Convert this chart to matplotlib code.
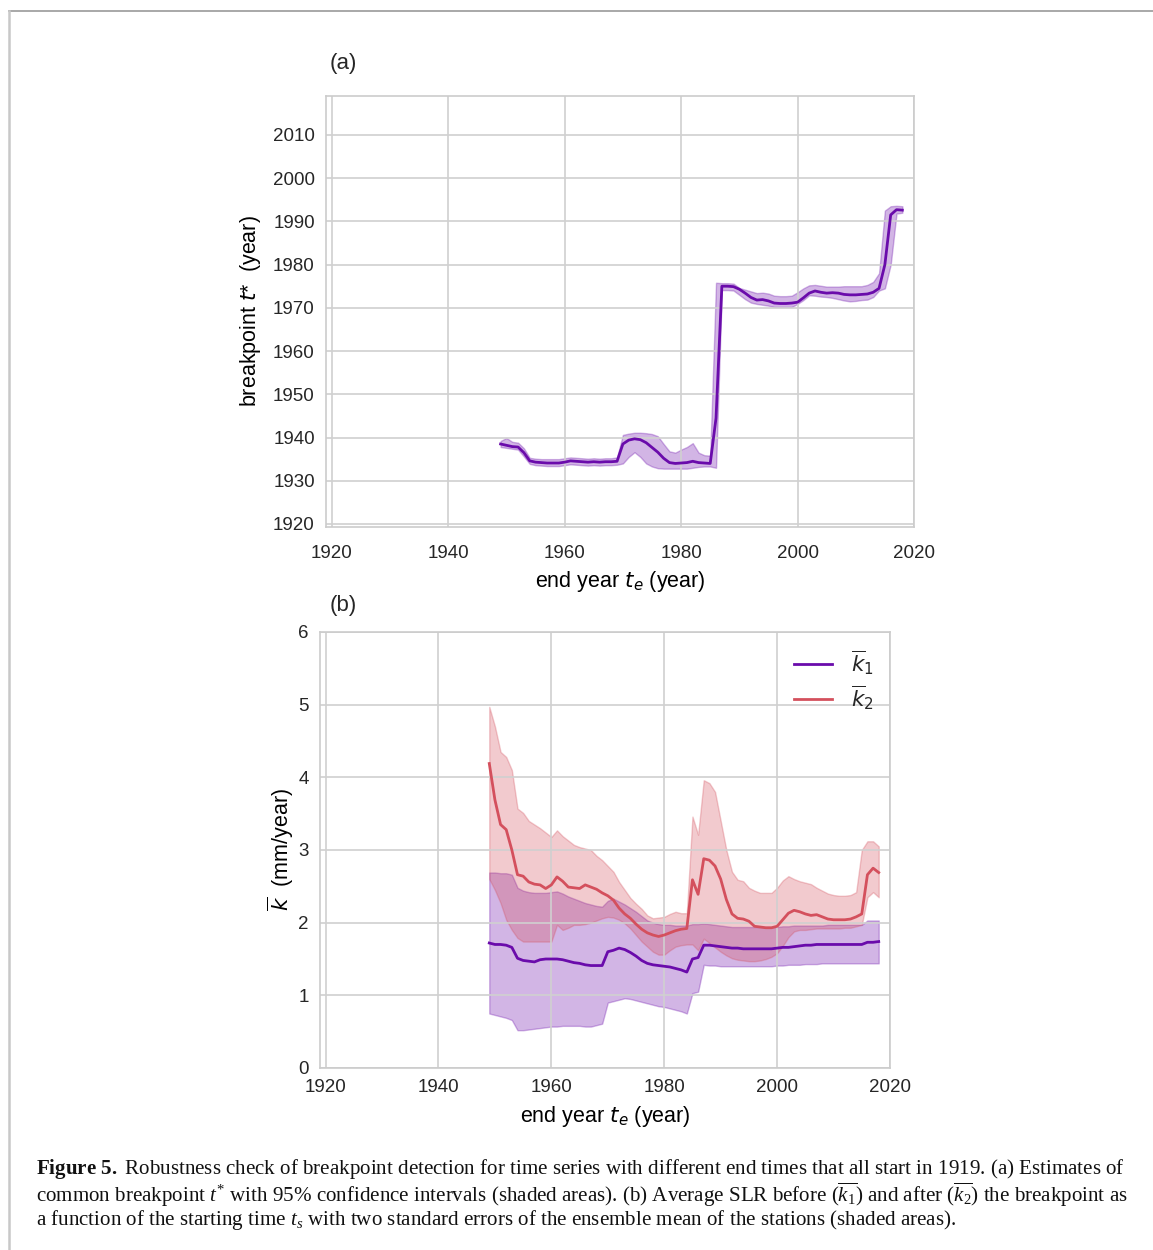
import numpy as np
import matplotlib.pyplot as plt
from matplotlib.lines import Line2D

# Estilo parecido com o whitegrid do seaborn
plt.rcParams['font.family'] = ['Liberation Sans', 'DejaVu Sans']
plt.rcParams['mathtext.fontset'] = 'custom'
plt.rcParams['mathtext.rm'] = 'Liberation Serif'
plt.rcParams['mathtext.it'] = 'Liberation Serif:italic'
plt.rcParams['mathtext.bf'] = 'Liberation Serif:bold'
plt.rcParams['axes.edgecolor'] = '#cccccc'
plt.rcParams['grid.color'] = '#d0d0d0'
plt.rcParams['text.color'] = '#262626'
plt.rcParams['xtick.color'] = '#262626'
plt.rcParams['ytick.color'] = '#262626'

# Anos finais das séries (todas começam em 1919)
end_years = np.arange(1949, 2019)

# (a) ponto de quebra comum e intervalo de 95%
t_star = [1938.5, 1938.2, 1937.9, 1937.8, 1936.5, 1934.6, 1934.3, 1934.2, 1934.1, 1934.1,
          1934.1, 1934.3, 1934.6, 1934.5, 1934.4, 1934.3, 1934.4, 1934.3, 1934.4, 1934.4,
          1934.5, 1938.5, 1939.4, 1939.7, 1939.5, 1938.8, 1937.7, 1936.6, 1935.2, 1934.2,
          1934.0, 1934.1, 1934.2, 1934.5, 1934.2, 1934.1, 1934.0, 1944.5, 1975.0, 1975.0,
          1974.9, 1974.3, 1973.4, 1972.4, 1971.8, 1971.9, 1971.6, 1971.1, 1971.0, 1971.0,
          1971.1, 1971.3, 1972.3, 1973.4, 1973.9, 1973.6, 1973.4, 1973.5, 1973.4, 1973.1,
          1973.0, 1973.0, 1973.1, 1973.2, 1973.6, 1974.5, 1980.0, 1991.5, 1992.7, 1992.6]
t_star_hi = [1939.2, 1939.9, 1939.0, 1938.8, 1937.5, 1935.3, 1935.1, 1935.0, 1935.0, 1935.0,
             1935.0, 1935.2, 1935.4, 1935.3, 1935.2, 1935.1, 1935.2, 1935.1, 1935.2, 1935.2,
             1935.4, 1940.6, 1940.9, 1941.1, 1941.1, 1941.0, 1940.8, 1940.3, 1938.5, 1936.8,
             1936.5, 1937.2, 1937.8, 1938.7, 1936.5, 1935.9, 1935.8, 1975.8, 1975.7, 1975.7,
             1975.6, 1974.6, 1974.2, 1973.8, 1973.4, 1973.5, 1973.3, 1972.8, 1972.7, 1972.7,
             1972.8, 1973.6, 1974.5, 1975.2, 1975.3, 1975.1, 1974.9, 1974.9, 1974.9, 1975.0,
             1975.0, 1975.0, 1975.0, 1975.3, 1976.0, 1978.0, 1992.5, 1993.5, 1993.6, 1993.5]
t_star_lo = [1937.8, 1937.6, 1937.4, 1937.2, 1935.6, 1933.9, 1933.6, 1933.5, 1933.4, 1933.4,
             1933.4, 1933.6, 1933.8, 1933.7, 1933.6, 1933.5, 1933.6, 1933.5, 1933.6, 1933.6,
             1933.7, 1934.0, 1935.5, 1936.6, 1935.5, 1934.0, 1933.3, 1932.9, 1932.8, 1932.8,
             1932.8, 1932.8, 1932.8, 1933.0, 1933.2, 1933.3, 1933.3, 1933.0, 1974.1, 1974.1,
             1974.0, 1973.0, 1972.0, 1971.2, 1970.9, 1970.7, 1970.5, 1970.2, 1970.2, 1970.2,
             1970.2, 1970.9, 1971.8, 1972.9, 1972.8, 1972.6, 1972.5, 1972.3, 1972.0, 1971.7,
             1971.5, 1971.6, 1971.8, 1971.9, 1972.5, 1974.0, 1974.5, 1980.0, 1991.8, 1992.0]

# (b) taxa média antes (k1) e depois (k2) da quebra, com 2 erros padrão
k1 = [1.72, 1.70, 1.70, 1.69, 1.66, 1.51, 1.48, 1.47, 1.46, 1.49,
      1.50, 1.50, 1.50, 1.49, 1.47, 1.45, 1.44, 1.42, 1.41, 1.41,
      1.41, 1.60, 1.62, 1.65, 1.63, 1.59, 1.54, 1.48, 1.44, 1.42,
      1.41, 1.40, 1.39, 1.37, 1.35, 1.32, 1.50, 1.52, 1.69, 1.69,
      1.68, 1.67, 1.66, 1.65, 1.65, 1.64, 1.64, 1.64, 1.64, 1.64,
      1.64, 1.65, 1.66, 1.66, 1.67, 1.68, 1.69, 1.69, 1.70, 1.70,
      1.70, 1.70, 1.70, 1.70, 1.70, 1.70, 1.70, 1.73, 1.73, 1.74]
k1_hi = [2.69, 2.69, 2.68, 2.68, 2.66, 2.48, 2.44, 2.42, 2.41, 2.41,
         2.41, 2.42, 2.43, 2.40, 2.36, 2.33, 2.30, 2.27, 2.25, 2.23,
         2.22, 2.30, 2.33, 2.29, 2.25, 2.20, 2.15, 2.09, 2.03, 2.00,
         1.98, 1.97, 1.97, 1.96, 1.96, 1.96, 1.98, 1.98, 1.99, 1.98,
         1.97, 1.96, 1.95, 1.94, 1.94, 1.94, 1.94, 1.94, 1.94, 1.94,
         1.94, 1.94, 1.95, 1.95, 1.96, 1.96, 1.96, 1.96, 1.96, 1.96,
         1.97, 1.97, 1.97, 1.97, 1.97, 1.97, 1.97, 2.03, 2.03, 2.03]
k1_lo = [0.75, 0.73, 0.71, 0.69, 0.66, 0.52, 0.52, 0.53, 0.54, 0.55,
         0.56, 0.57, 0.57, 0.58, 0.58, 0.58, 0.58, 0.57, 0.57, 0.59,
         0.61, 0.90, 0.92, 0.94, 0.96, 0.95, 0.93, 0.91, 0.89, 0.87,
         0.85, 0.84, 0.82, 0.80, 0.78, 0.75, 1.03, 1.05, 1.42, 1.41,
         1.41, 1.40, 1.40, 1.40, 1.40, 1.40, 1.40, 1.40, 1.40, 1.40,
         1.40, 1.41, 1.41, 1.42, 1.42, 1.42, 1.43, 1.43, 1.43, 1.44,
         1.44, 1.44, 1.44, 1.44, 1.44, 1.44, 1.44, 1.44, 1.44, 1.44]
k2 = [4.19, 3.69, 3.35, 3.28, 3.00, 2.66, 2.64, 2.56, 2.53, 2.52,
      2.47, 2.52, 2.63, 2.57, 2.49, 2.48, 2.47, 2.52, 2.49, 2.46,
      2.41, 2.37, 2.31, 2.20, 2.12, 2.06, 1.98, 1.91, 1.86, 1.83,
      1.81, 1.83, 1.86, 1.89, 1.91, 1.92, 2.59, 2.39, 2.88, 2.86,
      2.78, 2.60, 2.32, 2.12, 2.06, 2.05, 2.02, 1.95, 1.94, 1.93,
      1.93, 1.95, 2.04, 2.13, 2.17, 2.15, 2.12, 2.10, 2.11, 2.08,
      2.05, 2.04, 2.04, 2.04, 2.05, 2.08, 2.12, 2.66, 2.75, 2.69]
k2_hi = [4.97, 4.70, 4.35, 4.28, 4.10, 3.57, 3.51, 3.40, 3.35, 3.30,
         3.24, 3.18, 3.27, 3.19, 3.13, 3.07, 3.04, 3.02, 3.00, 2.92,
         2.86, 2.78, 2.70, 2.56, 2.45, 2.34, 2.26, 2.19, 2.10, 2.06,
         2.07, 2.08, 2.12, 2.15, 2.13, 2.13, 3.46, 3.21, 3.96, 3.92,
         3.80, 3.40, 3.00, 2.70, 2.59, 2.57, 2.48, 2.44, 2.41, 2.41,
         2.41, 2.48, 2.58, 2.64, 2.60, 2.57, 2.55, 2.53, 2.48, 2.44,
         2.40, 2.38, 2.37, 2.37, 2.38, 2.42, 3.00, 3.12, 3.12, 3.05]
k2_lo = [2.60, 2.45, 2.27, 2.04, 1.90, 1.79, 1.74, 1.74, 1.74, 1.74,
         1.74, 1.74, 1.97, 1.90, 1.93, 1.97, 1.97, 1.98, 2.00, 2.03,
         2.06, 2.08, 2.07, 2.04, 1.99, 1.92, 1.83, 1.74, 1.67, 1.60,
         1.56, 1.56, 1.62, 1.67, 1.69, 1.70, 1.70, 1.62, 1.78, 1.72,
         1.66, 1.60, 1.55, 1.51, 1.49, 1.48, 1.47, 1.47, 1.48, 1.50,
         1.53, 1.58, 1.68, 1.80, 1.88, 1.90, 1.90, 1.91, 1.92, 1.92,
         1.92, 1.92, 1.92, 1.93, 1.93, 1.95, 1.97, 2.35, 2.42, 2.35]

purple = '#6a0bab'
red = '#d4505d'

fig = plt.figure(figsize=(11.53, 12.5), dpi=100)

# ---- painel (a)
ax1 = fig.add_axes([0.2827, 0.5784, 0.51, 0.3448])
ax1.fill_between(end_years, t_star_lo, t_star_hi, color=purple, alpha=0.3, lw=1)
ax1.plot(end_years, t_star, color=purple, lw=2)
ax1.set_xlim(1919, 2020)
ax1.set_ylim(1919.3, 2019)
ax1.set_xticks(np.arange(1920, 2021, 20))
ax1.set_yticks(np.arange(1920, 2011, 10))
ax1.grid(True, lw=1.2)
ax1.tick_params(length=0, labelsize=13.5, pad=8)
ax1.tick_params(axis='x', pad=13)
ax1.set_xlabel('end year $t_e$ (year)', fontsize=15.5, math_fontfamily='dejavusans', labelpad=5)
ax1.set_ylabel('breakpoint $t$*  (year)', fontsize=15.5, math_fontfamily='dejavusans', labelpad=7)
for s in ax1.spines.values():
    s.set_linewidth(1.2)

# ---- painel (b)
ax2 = fig.add_axes([0.2775, 0.1456, 0.4944, 0.3488])
ax2.fill_between(end_years, k1_lo, k1_hi, color=purple, alpha=0.3, lw=1)
ax2.fill_between(end_years, k2_lo, k2_hi, color=red, alpha=0.3, lw=1)
ax2.plot(end_years, k1, color=purple, lw=2)
ax2.plot(end_years, k2, color=red, lw=2)
ax2.set_xlim(1919, 2020)
ax2.set_ylim(0, 6)
ax2.set_xticks(np.arange(1920, 2021, 20))
ax2.set_yticks(np.arange(0, 7, 1))
ax2.grid(True, lw=1.2)
ax2.tick_params(length=0, labelsize=13.5, pad=8)
ax2.tick_params(axis='x', pad=8)
ax2.set_xlabel('end year $t_e$ (year)', fontsize=15.5, math_fontfamily='dejavusans', labelpad=6)
ax2.set_ylabel(r'$\overline{k}$  (mm/year)', fontsize=15.5, math_fontfamily='dejavusans', labelpad=2)
for s in ax2.spines.values():
    s.set_linewidth(1.2)
handles = [Line2D([], [], color=purple, lw=2), Line2D([], [], color=red, lw=2)]
ax2.legend(handles, [r'$\overline{k}_1$', r'$\overline{k}_2$'], loc='upper right',
           frameon=False, handlelength=1.75, labelspacing=0.3, handletextpad=0.9,
           borderaxespad=0.35, prop={'math_fontfamily': 'dejavusans', 'size': 15.5})

fig.text(0.2975, 0.9496, '(a)', fontsize=16, ha='center', va='center')
fig.text(0.2975, 0.5152, '(b)', fontsize=16, ha='center', va='center')

# legenda da figura
cap = [r'$\mathbf{Figure\ 5.}$ Robustness check of breakpoint detection for time series with different end times that all start in 1919. (a) Estimates of',
       r'common breakpoint $t^{*}$ with 95% confidence intervals (shaded areas). (b) Average SLR before $(\overline{k_1})$ and after $(\overline{k_2})$ the breakpoint as',
       r'a function of the starting time $t_s$ with two standard errors of the ensemble mean of the stations (shaded areas).']
for i, line in enumerate(cap):
    fig.text(36 / 1153, 1 - (1169 + 25.5 * i) / 1250, line, family='Liberation Serif',
             fontsize=15.1, ha='left', va='center', color='#111111')

# moldura
fig.add_artist(Line2D([8.5 / 1153, 1], [1 - 11 / 1250, 1 - 11 / 1250], color='#9a9a9a', lw=1.2))
fig.add_artist(Line2D([8.5 / 1153, 8.5 / 1153], [0, 1 - 11 / 1250], color='#c8c8c8', lw=1.8))

fig.savefig('out.png', dpi=100)
